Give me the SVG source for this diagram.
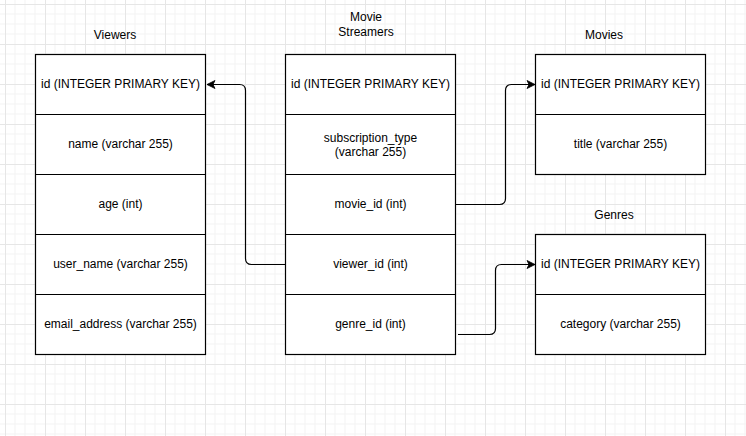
<svg xmlns="http://www.w3.org/2000/svg" width="746" height="436" viewBox="0 0 746 436">
<style>
.box{fill:#fff;stroke:#000;stroke-width:1.2}
.div{stroke:#000;stroke-width:1.2}
.t{font-family:"Liberation Sans",Arial,sans-serif;font-size:12px;fill:#000;text-anchor:middle}
.edge{fill:none;stroke:#000;stroke-width:1.2}
</style>
<defs>
<pattern id="grid" x="5" y="4" width="40" height="40" patternUnits="userSpaceOnUse">
<path d="M10,0V40M20,0V40M30,0V40M0,10H40M0,20H40M0,30H40" stroke="#f3f3f3" stroke-width="1" fill="none"/>
<path d="M0.5,0V40M0,0.5H40" stroke="#e6e6e6" stroke-width="1" fill="none"/>
</pattern>
<marker id="arr" markerWidth="10" markerHeight="10" viewBox="-9 -5 10 10" refX="0" refY="0" orient="auto" markerUnits="userSpaceOnUse">
<path d="M0,0 L-8,-4 L-6,0 L-8,4 Z" fill="#000" stroke="#000" stroke-width="0.8"/>
</marker>
</defs>
<rect width="746" height="436" fill="#fff"/>
<rect width="746" height="436" fill="url(#grid)"/>

<g id="viewers">
<text class="t" x="115" y="39">Viewers</text>
<rect class="box" x="35.5" y="54.5" width="170" height="300"/>
<path class="div" d="M35.5,114.5H205.5M35.5,174.5H205.5M35.5,234.5H205.5M35.5,294.5H205.5"/>
<text class="t" x="120.5" y="88">id (INTEGER PRIMARY KEY)</text>
<text class="t" x="120.5" y="148">name (varchar 255)</text>
<text class="t" x="120.5" y="208">age (int)</text>
<text class="t" x="120.5" y="268">user_name (varchar 255)</text>
<text class="t" x="120.5" y="328">email_address (varchar 255)</text>
</g>

<g id="movie-streamers">
<text class="t" x="366" y="21">Movie</text>
<text class="t" x="366" y="36">Streamers</text>
<rect class="box" x="285.5" y="54.5" width="170" height="300"/>
<path class="div" d="M285.5,114.5H455.5M285.5,174.5H455.5M285.5,234.5H455.5M285.5,294.5H455.5"/>
<text class="t" x="370.5" y="88">id (INTEGER PRIMARY KEY)</text>
<text class="t" x="370.5" y="142">subscription_type</text>
<text class="t" x="370.5" y="156">(varchar 255)</text>
<text class="t" x="370.5" y="208">movie_id (int)</text>
<text class="t" x="370.5" y="268">viewer_id (int)</text>
<text class="t" x="370.5" y="328">genre_id (int)</text>
</g>

<g id="movies">
<text class="t" x="604" y="39">Movies</text>
<rect class="box" x="535.5" y="54.5" width="170" height="120"/>
<path class="div" d="M535.5,114.5H705.5"/>
<text class="t" x="620.5" y="88">id (INTEGER PRIMARY KEY)</text>
<text class="t" x="620.5" y="148">title (varchar 255)</text>
</g>

<g id="genres">
<text class="t" x="614" y="219">Genres</text>
<rect class="box" x="535.5" y="234.5" width="170" height="120"/>
<path class="div" d="M535.5,294.5H705.5"/>
<text class="t" x="620.5" y="268">id (INTEGER PRIMARY KEY)</text>
<text class="t" x="620.5" y="328">category (varchar 255)</text>
</g>

<g id="connectors">
<path class="edge" marker-end="url(#arr)" d="M285.5,264.5H251.5Q245.5,264.5 245.5,258.5V90.5Q245.5,84.5 239.5,84.5H207"/>
<path class="edge" marker-end="url(#arr)" d="M455.5,204.5H499.5Q505.5,204.5 505.5,198.5V90.5Q505.5,84.5 511.5,84.5H535"/>
<path class="edge" marker-end="url(#arr)" d="M458,334.5H489.5Q495.5,334.5 495.5,328.5V270.5Q495.5,264.5 501.5,264.5H535"/>
</g>
</svg>
